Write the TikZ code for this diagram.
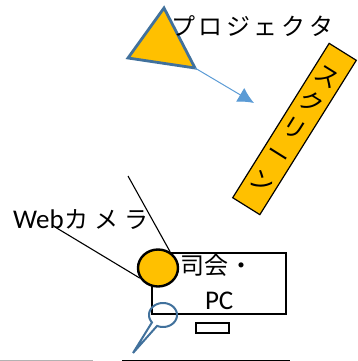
\documentclass[tikz,border=0pt]{standalone}
\usepackage{fontspec}
\setmainfont{Carlito}
\newfontfamily\jpf{Noto Sans CJK JP}
\usetikzlibrary{arrows.meta,shapes.geometric}
\definecolor{amber}{HTML}{FFC000}
\definecolor{edgeblue}{HTML}{41719C}
\definecolor{rayblue}{HTML}{5B9BD5}
\newcommand{\kk}[1]{\kern#1pt\relax}
\tikzset{
  label text/.style={inner sep=0pt,outer sep=0pt,anchor=base west,font=\fontsize{27}{30}\selectfont},
  jp text/.style={inner sep=0pt,outer sep=0pt,anchor=base west,font=\jpf\fontsize{24}{28}\selectfont},
  thin black/.style={draw=black,line width=1.1pt},
}
\begin{document}
\begin{tikzpicture}[x=1pt,y=-1pt]
\useasboundingbox (0,0) rectangle (358,361);
% screen
\node[rotate=-32,draw=black,line width=1.2pt,fill=amber,minimum width=32pt,minimum height=182pt,inner sep=0pt,align=center,
  font=\jpf\fontsize{24}{31}\selectfont] (screen) at (294.5,129) {ス\\ク\\リ\\ー\\ン};
% projector
\coordinate (ptop) at (164,8);
\coordinate (pleft) at (128,58);
\coordinate (pright) at (195,68);
\draw[draw=edgeblue,line width=2.8pt,fill=amber,line join=miter] (ptop) -- (pleft) -- (pright) -- cycle;
\coordinate (raytip) at (254,103);
\draw[draw=rayblue,line width=1pt,-{Latex[length=16pt,width=16pt]}] (pright) -- (raytip);
\node[jp text] (projlabel) at (171,36) {プ\kk{3.6}ロ\kk{3.6}ジ\kk{3.6}ェ\kk{3.6}ク\kk{3.6}タ};
% PC
\node[thin black,rectangle,minimum width=134pt,minimum height=61pt,inner sep=0pt] (pc) at (219,283.5) {};
\node[thin black,rectangle,minimum width=33pt,minimum height=10pt,inner sep=0pt] (stand) at (212.5,328) {};
\node[jp text] (chair) at (180,274) {司\kk{1}会\kk{1}・};
\node[label text] (pclabel) at (205,309) {PC};
% webcam
\node[draw=black,line width=2.4pt,fill=amber,ellipse,minimum width=40pt,minimum height=37pt,inner sep=0pt] (cam) at (158,268) {};
\coordinate (pole) at (128,176);
\coordinate (wire) at (55,227);
\draw[thin black] (pole) -- (cam.53);
\draw[thin black] (wire) -- (cam.209);
\node[label text] (weblabel) at (13,228) {Web\jpf\fontsize{24}{28}\selectfont\kk{1}カ\kk{6}メ\kk{6}ラ};
% microphone callout
\coordinate (mictip) at (133,353);
\draw[draw=edgeblue,line width=2pt,line join=miter]
  plot[domain=142:475,samples=60] ({163+14*cos(\x)},{315+12*sin(\x)}) -- (mictip) -- cycle;
% bottom edges
\coordinate (ga) at (0,360.3);
\coordinate (gb) at (93,360.3);
\coordinate (ka) at (122,360.3);
\coordinate (kb) at (290,360.3);
\draw[draw=black!30,line width=1pt] (ga) -- (gb);
\draw[draw=black,line width=1pt] (ka) -- (kb);
\end{tikzpicture}
\end{document}
